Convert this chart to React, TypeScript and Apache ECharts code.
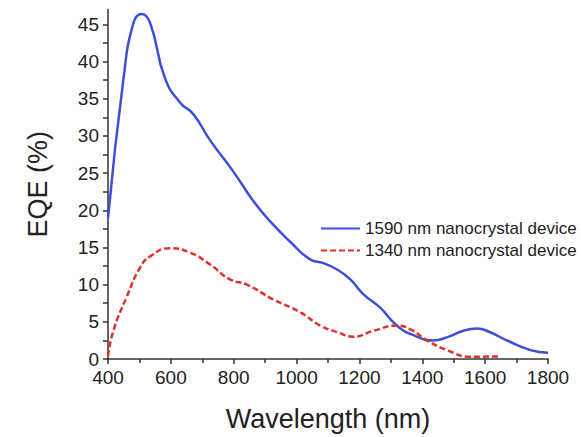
import React, { useEffect, useRef } from "react";
import * as echarts from "echarts";

const blueX = [400, 449, 481, 507, 534, 581, 629, 672, 725, 799, 863, 916, 979, 1043, 1085, 1130, 1171, 1213, 1266, 1319, 1372, 1436, 1478, 1531, 1574, 1616, 1669, 1744, 1800];
const blueY = [18.9, 37.6, 45.2, 46.4, 45.2, 37.8, 34.5, 32.9, 29.4, 25.2, 21.2, 18.5, 15.8, 13.4, 12.9, 12.0, 10.7, 8.7, 6.9, 4.5, 3.2, 2.5, 2.9, 3.8, 4.1, 3.6, 2.5, 1.2, 0.85];

const redX = [400, 417, 459, 502, 534, 597, 661, 725, 788, 842, 926, 1011, 1075, 1130, 1181, 1245, 1319, 1362, 1415, 1478, 1553, 1648];
const redY = [0.4, 3.8, 8.3, 12.3, 13.8, 14.9, 14.3, 12.7, 10.7, 10.0, 8.0, 6.3, 4.5, 3.6, 3.0, 3.8, 4.5, 4.0, 2.5, 1.2, 0.3, 0.35];

const seriesNames = ["1590 nm nanocrystal device", "1340 nm nanocrystal device"];
const yLabelValues = [0, 5, 10, 15, 20, 25, 30, 35, 40, 45];
const yTickValues = [0, 2.5, 5, 7.5, 10, 12.5, 15, 17.5, 20, 22.5, 25, 27.5, 30, 32.5, 35, 37.5, 40, 42.5, 45];

const FONT = "Liberation Sans, Arial, sans-serif";
const TXT = "#222";

export default function App() {
  const ref = useRef<HTMLDivElement>(null);
  useEffect(() => {
    if (!ref.current) return;
    const chart = echarts.init(ref.current, null, { renderer: "svg" });
    chart.setOption({
      animation: false,
      backgroundColor: "#fff",
      grid: { left: 108, right: 33, top: 9.5, bottom: 75 },
      legend: {
        orient: "vertical",
        left: 315,
        top: 215,
        itemWidth: 39,
        itemHeight: 14,
        itemGap: 5,
        itemStyle: { opacity: 0 },
        textStyle: { fontFamily: FONT, fontSize: 17, color: TXT },
        data: seriesNames,
      },
      xAxis: {
        type: "value",
        min: 400,
        max: 1800,
        interval: 200,
        name: "Wavelength (nm)",
        nameLocation: "middle",
        nameGap: 46,
        nameTextStyle: { fontFamily: FONT, fontSize: 27, color: TXT },
        axisLine: { lineStyle: { color: "#333", width: 1.5 } },
        axisTick: { inside: false, length: 5, lineStyle: { color: "#333", width: 1.5 } },
        minorTick: { show: true, splitNumber: 2, length: 4, lineStyle: { color: "#333", width: 1.5 } },
        axisLabel: { fontFamily: FONT, fontSize: 19, color: TXT, margin: 9, formatter: (v: number) => String(v) },
        splitLine: { show: false },
      },
      yAxis: {
        type: "value",
        min: 0,
        max: 47,
        name: "EQE (%)",
        nameLocation: "middle",
        nameGap: 57,
        nameTextStyle: { fontFamily: FONT, fontSize: 27, color: TXT },
        axisLine: { show: true, lineStyle: { color: "#333", width: 1.5 } },
        axisTick: { show: true, length: 5, customValues: yTickValues, lineStyle: { color: "#333", width: 1.5 } },
        axisLabel: { fontFamily: FONT, fontSize: 19, color: TXT, margin: 9, customValues: yLabelValues },
        splitLine: { show: false },
      },
      series: [
        {
          name: seriesNames[0],
          type: "line",
          smooth: true,
          symbol: "none",
          data: blueX.map((x, i) => [x, blueY[i]]),
          lineStyle: { color: "#3b4fd9", width: 2.5 },
          itemStyle: { color: "#3b4fd9" },
        },
        {
          name: seriesNames[1],
          type: "line",
          smooth: true,
          symbol: "none",
          data: redX.map((x, i) => [x, redY[i]]),
          lineStyle: { color: "#e0302a", width: 2.5, type: [6, 3] },
          itemStyle: { color: "#e0302a" },
        },
      ],
    });
    return () => chart.dispose();
  }, []);
  return <div ref={ref} style={{ width: 581, height: 437, position: "absolute", left: 0, top: 0 }} />;
}
